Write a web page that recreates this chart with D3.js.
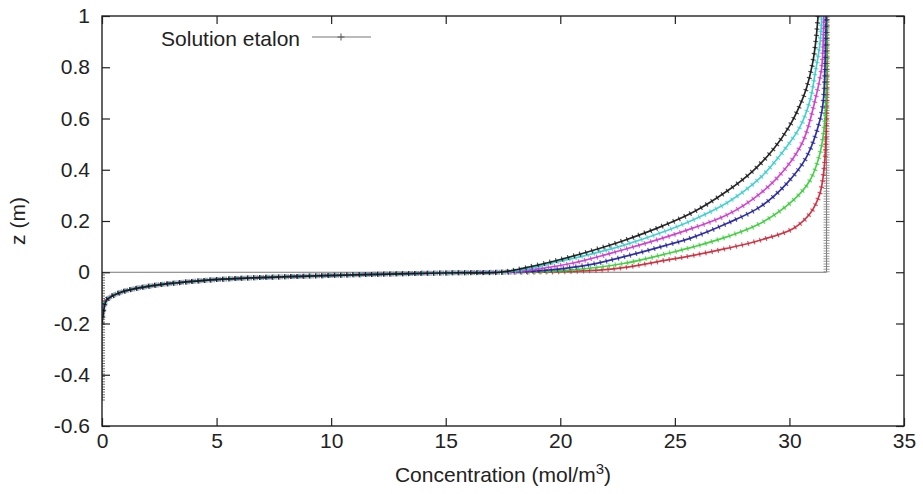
<!DOCTYPE html>
<html><head><meta charset="utf-8">
<script src="https://cdn.jsdelivr.net/npm/d3@7"></script>
<style>
html,body{margin:0;padding:0;background:#fff;}
svg{display:block;font-family:"Liberation Sans",Arial,Helvetica,sans-serif;}
</style></head>
<body><svg id="chart" width="923" height="494"></svg>
<script>
// ---- data ----
const xTicks = [0,5,10,15,20,25,30,35];
const xTickLabels = ["0","5","10","15","20","25","30","35"];
const yTicks = [-0.6,-0.4,-0.2,0,0.2,0.4,0.6,0.8,1];
const yTickLabels = ["-0.6","-0.4","-0.2","0","0.2","0.4","0.6","0.8","1"];

// reference ("Solution etalon") step profile: [concentration, z]
const etalon = [[0,-0.5],[0,0],[31.62,0],[31.62,1]];

// part shared by all computed profiles below z = 0 : [concentration, z]
const lowerShared = [[0.2,-0.108],[0.42,-0.094],[0.86,-0.077],[1.44,-0.064],[2.31,-0.051],
  [3.2,-0.042],[4.06,-0.035],[4.93,-0.029],[6.5,-0.022],[8.6,-0.016],[11,-0.010],
  [13,-0.006],[15.5,-0.002],[17.4,0]];

// tails near c = 0 for each profile
const redTail     = [[0.03,-0.115],[0.1,-0.112]];
const greenTail   = [[0.03,-0.14],[0.1,-0.122]];
const blueTail    = [[0.03,-0.15],[0.1,-0.126]];
const magentaTail = [[0.03,-0.16],[0.1,-0.13]];
const cyanTail    = [[0.03,-0.17],[0.1,-0.133]];
const blackTail   = [[0.0,-0.2],[0.03,-0.18],[0.1,-0.136]];

// upper parts (z > 0)
const redUpper = [[19.5,0.001],[21.3,0.006],[22.75,0.018],[24.8,0.05],[25.81,0.066],[27.26,0.093],
  [28.72,0.125],[30.17,0.171],[30.9,0.229],[31.33,0.307],[31.52,0.411],[31.6,0.541],[31.64,0.75],[31.65,1.0]];
const greenUpper = [[19.0,0.002],[20.4,0.008],[22.75,0.034],[24.8,0.076],[25.81,0.099],[27.26,0.138],
  [28.72,0.19],[30.17,0.281],[30.9,0.359],[31.33,0.463],[31.55,0.593],[31.62,0.8],[31.64,1.0]];
const blueUpper = [[18.4,0.002],[19.55,0.009],[21.3,0.03],[22.75,0.06],[24.57,0.104],[25.81,0.137],
  [27.26,0.19],[28.72,0.255],[29.88,0.346],[30.75,0.45],[31.33,0.593],[31.48,0.671],[31.56,0.83],[31.6,1.0]];
const magentaUpper = [[18.2,0.003],[18.8,0.01],[20.57,0.036],[22.75,0.088],[24.57,0.136],[25.81,0.173],
  [27.26,0.223],[28.72,0.307],[29.88,0.411],[30.61,0.515],[31.12,0.671],[31.41,0.8],[31.48,0.93],[31.5,1.0]];
const cyanUpper = [[17.9,0.004],[18.6,0.014],[19.84,0.04],[21.3,0.07],[22.75,0.105],[24.57,0.16],
  [25.81,0.205],[27.26,0.27],[28.72,0.368],[29.73,0.472],[30.46,0.567],[30.9,0.671],[31.12,0.775],
  [31.33,0.89],[31.41,1.0]];
const blackUpper = [[18.4,0.016],[19.84,0.046],[21.3,0.082],[22.75,0.123],[24.5,0.182],[25.81,0.235],
  [27.25,0.315],[28.4,0.395],[29.3,0.48],[30.0,0.57],[30.45,0.65],[30.75,0.72],[31.0,0.81],[31.15,0.9],[31.25,1.0]];

const seriesNames  = ["red","green","blue","magenta","cyan","black"];
const seriesColors = ["#cc2233","#33cc33","#1c1c9a","#cc33cc","#33cccc","#111111"];
const tails  = [redTail,greenTail,blueTail,magentaTail,cyanTail,blackTail];
const uppers = [redUpper,greenUpper,blueUpper,magentaUpper,cyanUpper,blackUpper];

// ---- layout ----
const L = 102, R = 904, T = 16, B = 426;
const svg = d3.select("#chart");
const x = d3.scaleLinear().domain([0,35]).range([L,R]);
const y = d3.scaleLinear().domain([-0.6,1]).range([B,T]);

svg.append("defs").append("clipPath").attr("id","clip")
  .append("rect").attr("x",L).attr("y",T).attr("width",R-L).attr("height",B-T);

const line = d3.line().x(d=>x(d[0])).y(d=>y(d[1])).curve(d3.curveCatmullRom.alpha(0.5));
const straight = d3.line().x(d=>x(d[0])).y(d=>y(d[1]));

const g = svg.append("g").attr("clip-path","url(#clip)");

// etalon
g.append("path").attr("d",straight(etalon)).attr("fill","none")
  .attr("stroke","#777").attr("stroke-width",1);
for (let i=0;i<etalon.length-1;i++){
  if (etalon[i][0]===etalon[i+1][0]){
    g.append("path").attr("d",straight([etalon[i],etalon[i+1]])).attr("fill","none")
      .attr("stroke", etalon[i][0]===0 ? "#555" : "#888").attr("stroke-width",6)
      .attr("stroke-dasharray","1 1.6").attr("opacity",0.85);
  }
}

// computed profiles
seriesNames.forEach((n,i)=>{
  const pts = tails[i].concat(lowerShared, uppers[i]);
  const c = seriesColors[i];
  g.append("path").attr("class","s-"+n).attr("d",line(pts)).attr("fill","none")
    .attr("stroke",c).attr("stroke-width",1.7).attr("stroke-opacity",0.9);
  g.append("path").attr("d",line(pts)).attr("fill","none")
    .attr("stroke",c).attr("stroke-width",5).attr("stroke-dasharray","1.2 5")
    .attr("stroke-opacity",0.75);
});

// axes (gnuplot style: inward ticks, mirrored)
const fs = "21px";
const xb = svg.append("g").attr("transform",`translate(0,${B})`)
  .call(d3.axisBottom(x).tickValues(xTicks).tickFormat((d,i)=>xTickLabels[i]).tickSize(-8).tickPadding(7));
const xt = svg.append("g").attr("transform",`translate(0,${T})`)
  .call(d3.axisTop(x).tickValues(xTicks).tickFormat("").tickSize(-8));
const yl = svg.append("g").attr("transform",`translate(${L},0)`)
  .call(d3.axisLeft(y).tickValues(yTicks).tickFormat((d,i)=>yTickLabels[i]).tickSize(-8).tickPadding(12));
const yr = svg.append("g").attr("transform",`translate(${R},0)`)
  .call(d3.axisRight(y).tickValues(yTicks).tickFormat("").tickSize(-8));
[xb,xt,yl,yr].forEach(a=>{
  a.select(".domain").remove();
  a.selectAll("line").attr("stroke","#222").attr("stroke-width",1.2);
  a.selectAll("text").attr("fill","#222").style("font-size",fs)
    .style("font-family",'"Liberation Sans",Arial,sans-serif');
});

svg.append("rect").attr("x",L).attr("y",T).attr("width",R-L).attr("height",B-T)
  .attr("fill","none").attr("stroke","#222").attr("stroke-width",1.4);

// axis titles
const xl = svg.append("text").attr("x",(L+R)/2).attr("y",482).attr("text-anchor","middle")
  .attr("fill","#222").style("font-size",fs);
xl.append("tspan").text("Concentration (mol/m");
xl.append("tspan").attr("dy",-8).style("font-size","15px").text("3");
xl.append("tspan").attr("dy",8).text(")");

svg.append("text").attr("transform",`translate(25,${(T+B)/2}) rotate(-90)`)
  .attr("text-anchor","middle").attr("fill","#222").style("font-size",fs).text("z (m)");

// legend
svg.append("text").attr("x",300).attr("y",46).attr("text-anchor","end")
  .attr("fill","#222").style("font-size",fs).text("Solution etalon");
svg.append("line").attr("x1",312).attr("x2",371).attr("y1",37).attr("y2",37)
  .attr("stroke","#777").attr("stroke-width",1);
svg.append("path").attr("d","M341,33.5V40.5M337.5,37H344.5").attr("stroke","#555").attr("stroke-width",1);
</script></body></html>
